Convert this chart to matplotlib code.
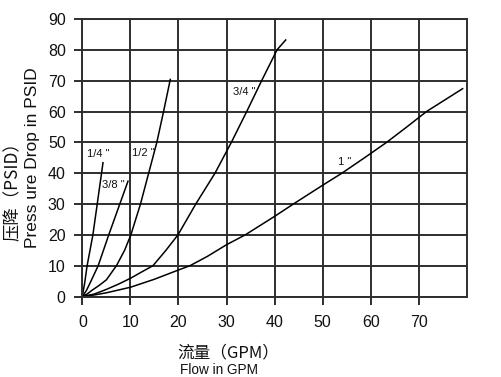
import matplotlib.pyplot as plt

plt.rcParams['font.family'] = ['Liberation Sans', 'Noto Sans CJK SC', 'DejaVu Sans']

# values (GPM, PSID)
q14 = [0, 0.5, 1.0, 2.2, 3.1, 4.0, 4.3]
p14 = [0, 4.5, 10, 20, 30, 40, 43.4]
q38 = [0, 0.8, 1.5, 3.3, 5.5, 7.8, 9.5]
p38 = [0, 1.8, 4, 10, 20, 30, 37.4]
q12 = [0, 1, 2, 3.5, 5, 7.1, 8.8, 10.1, 12.1, 13.8, 15.5, 16.9, 18.3]
p12 = [0, 0.8, 2, 3.6, 5.4, 10, 15, 20, 30, 40, 50, 60, 70.4]
q34 = [0, 2.5, 5, 7.5, 10, 12.5, 14.7, 17.4, 19.9, 23.6, 27.6, 31.0, 34.2, 37.3, 40.5, 42.3]
p34 = [0, 0.8, 2.3, 4.0, 5.9, 8.1, 10, 15, 20, 30, 40, 50, 60, 70, 80, 83.2]
q1 = [0, 2.5, 5, 10, 15, 20, 22.4, 26, 30, 33.9, 40, 43.9, 50, 54, 58.7, 63.3, 67.5, 71.6, 79.1]
p1 = [0, 0.5, 1.2, 3.0, 5.6, 8.6, 10, 13, 16.8, 20, 26, 30, 36.1, 40, 45, 50, 55, 60, 67.4]

sizes = ['1/4 "', '3/8 "', '1/2 "', '3/4 "', '1 "']
label_pos = [(0.9, 46.1), (4.1, 36.1), (10.3, 46.7), (31.4, 66.3), (53.1, 43.5)]

fig = plt.figure(figsize=(5.01, 3.77), dpi=100)
ax = fig.add_axes([0.1643, 0.2135, 0.932 - 0.1643, 0.9496 - 0.2135])

grid_c = '#2e2e2e'
ax.set_xlim(0, 80)
ax.set_ylim(0, 90)
ax.set_xticks(range(0, 80, 10))
ax.set_yticks(range(0, 100, 10))
ax.grid(True, color=grid_c, linewidth=1.4)
ax.set_axisbelow(True)
for s in ax.spines.values():
    s.set_color(grid_c)
    s.set_linewidth(1.4)
ax.tick_params(direction='out', length=6, width=1.4, color=grid_c,
               labelsize=11.5, labelcolor='#111111')
ax.tick_params(axis='x', pad=7)
ax.tick_params(axis='y', pad=6)

for q, p in [(q14, p14), (q38, p38), (q12, p12), (q34, p34), (q1, p1)]:
    ax.plot(q, p, color='black', linewidth=1.1, clip_on=False)

for name, (x, y) in zip(sizes, label_pos):
    ax.text(x, y, name, fontsize=8, ha='left', va='center', color='#111111')

cjk = ['Noto Sans CJK SC', 'DejaVu Sans']
fig.text(0.026, 0.36, '压降（PSID）', rotation=90, ha='center', va='bottom',
         fontsize=12.5, family=cjk, fontweight='medium', color='#111111')
fig.text(0.064, 0.342, 'Press ure Drop in PSID', rotation=90, ha='center', va='bottom',
         fontsize=12.5, color='#111111')
fig.text(0.353, 0.065, '流量（GPM）', ha='left', va='center',
         fontsize=12, family=cjk, fontweight='medium', color='#111111')
fig.text(0.359, 0.018, 'Flow in GPM', ha='left', va='center', fontsize=9.8,
         color='#111111')

fig.savefig('out.png', dpi=100)
